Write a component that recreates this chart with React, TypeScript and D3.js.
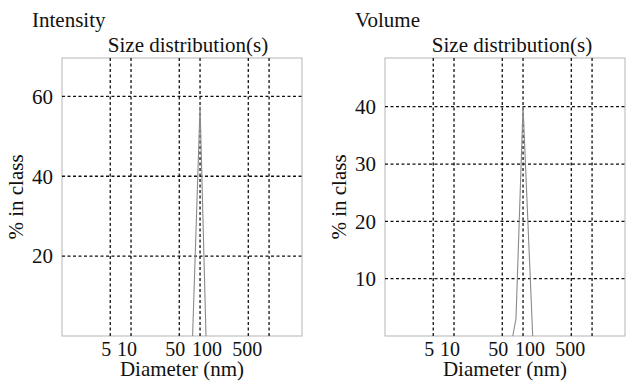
import * as d3 from 'd3';

const gridDiameters = [5, 10, 50, 100, 500, 1000];
const xTickLabels = [5, 10, 50, 100, 500];
const intensityTicks = [20, 40, 60];
const volumeTicks = [10, 20, 30, 40];
const intensityDiameter = [78, 100, 122];
const intensityPercent = [0, 57.5, 0];
const volumeDiameter = [71, 79, 100, 138];
const volumePercent = [0, 3, 40, 0];

const font = '"Liberation Serif", "Times New Roman", serif';

// the labels in the original sit a little off their gridlines
const nudge = (t: number) => (t === 100 ? 7 : t === 500 ? -1 : -4);

type PanelProps = {
  left: number;
  title: string;
  yMax: number;
  yTicks: number[];
  diam: number[];
  pct: number[];
  subtitleX: number;
};

function Panel({ left, title, yMax, yTicks, diam, pct, subtitleX }: PanelProps) {
  const top = 58;
  const bottom = 336;
  const width = 240;
  const x = d3.scaleLog().domain([1, 3000]).range([left, left + width]);
  const y = d3.scaleLinear().domain([0, yMax]).range([bottom, top]);
  const pts: [number, number][] = diam.map((d, i) => [d, pct[i]]);
  const line = d3
    .line<[number, number]>()
    .x((d) => x(d[0]))
    .y((d) => y(d[1]));

  return (
    <g fontFamily={font} fill="#111">
      <text x={left - 30} y={27} fontSize={21}>
        {title}
      </text>
      <text x={subtitleX} y={52} fontSize={21} textAnchor="middle">
        Size distribution(s)
      </text>
      <rect x={left} y={top} width={width} height={bottom - top} fill="none" stroke="#b5b5b5" strokeWidth={1} />
      {gridDiameters.map((d) => (
        <line key={'v' + d} x1={x(d)} x2={x(d)} y1={top} y2={bottom} stroke="#111" strokeWidth={1.3} strokeDasharray="3,2.5" />
      ))}
      {yTicks.map((t) => (
        <line key={'h' + t} x1={left} x2={left + width} y1={y(t)} y2={y(t)} stroke="#111" strokeWidth={1.3} strokeDasharray="3,2.5" />
      ))}
      {yTicks.map((t) => (
        <text key={'yl' + t} x={left - 9} y={y(t)} dy="0.35em" fontSize={21} textAnchor="end">
          {t}
        </text>
      ))}
      {xTickLabels.map((t) => (
        <text key={'xl' + t} x={x(t) + nudge(t)} y={356} fontSize={20} textAnchor="middle">
          {t}
        </text>
      ))}
      <text x={left + width / 2} y={376} fontSize={21} textAnchor="middle">
        Diameter (nm)
      </text>
      <text
        transform={`translate(${left - 39},${(top + bottom) / 2}) rotate(-90)`}
        fontSize={21}
        textAnchor="middle"
      >
        % in class
      </text>
      <path d={line(pts) ?? ''} fill="none" stroke="#8a8a8a" strokeWidth={1.1} />
    </g>
  );
}

export default function App() {
  return (
    <svg
      width={633}
      height={382}
      style={{ position: 'absolute', left: 0, top: 0, background: '#fff' }}
    >
      <Panel
        left={62}
        title="Intensity"
        yMax={69.6}
        yTicks={intensityTicks}
        diam={intensityDiameter}
        pct={intensityPercent}
        subtitleX={188}
      />
      <Panel
        left={385}
        title="Volume"
        yMax={48.5}
        yTicks={volumeTicks}
        diam={volumeDiameter}
        pct={volumePercent}
        subtitleX={512}
      />
    </svg>
  );
}
